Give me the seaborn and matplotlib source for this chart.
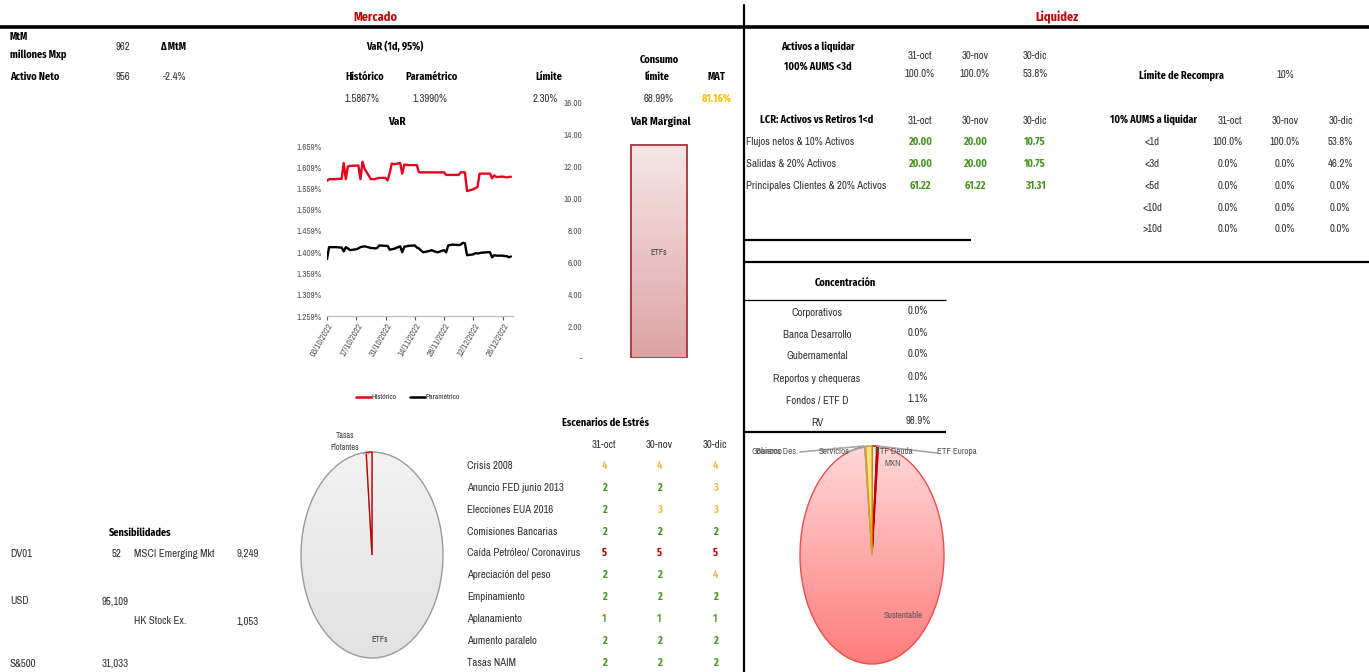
import numpy as np
import pandas as pd
import matplotlib
matplotlib.use("Agg")
import matplotlib.pyplot as plt
import matplotlib.dates as mdates
from matplotlib.colors import LinearSegmentedColormap
from matplotlib.ticker import FixedLocator, FuncFormatter
import seaborn as sns

# ---------------- data ----------------
fechas = pd.bdate_range("2022-10-03", "2022-12-30")
var_historico = [
    1.577, 1.581, 1.581, 1.581, 1.581, 1.582, 1.619, 1.581, 1.611, 1.612, 1.613,
    1.613, 1.581, 1.622, 1.605, 1.581, 1.581, 1.581, 1.583, 1.584, 1.584,
    1.578, 1.595, 1.618, 1.616, 1.619, 1.594, 1.615, 1.615, 1.614, 1.614, 1.614,
    1.597, 1.597, 1.597, 1.597, 1.597, 1.597, 1.597, 1.597, 1.597, 1.591, 1.591,
    1.591, 1.591, 1.591, 1.597, 1.597, 1.597, 1.553, 1.557, 1.560, 1.562, 1.594,
    1.594, 1.594, 1.594, 1.583, 1.590, 1.586, 1.587, 1.586, 1.585, 1.586, 1.5867,
]
var_parametrico = [
    1.393, 1.421, 1.421, 1.421, 1.421, 1.420, 1.411, 1.421, 1.418, 1.414, 1.416,
    1.418, 1.421, 1.422, 1.423, 1.419, 1.419, 1.418, 1.419, 1.425, 1.424,
    1.424, 1.415, 1.416, 1.417, 1.423, 1.409, 1.422, 1.423, 1.424, 1.425, 1.420,
    1.418, 1.413, 1.409, 1.412, 1.414, 1.412, 1.410, 1.409, 1.414, 1.409, 1.425,
    1.426, 1.427, 1.426, 1.427, 1.431, 1.430, 1.402, 1.404, 1.407, 1.406, 1.407,
    1.408, 1.409, 1.409, 1.397, 1.402, 1.401, 1.401, 1.400, 1.400, 1.397, 1.399,
]
var_yticks = [1.259, 1.309, 1.359, 1.409, 1.459, 1.509, 1.559, 1.609, 1.659]
var_xticks = ["2022-10-03", "2022-10-17", "2022-10-31", "2022-11-14",
              "2022-11-28", "2022-12-12", "2022-12-26"]

marginal_cat = ["ETFs"]
marginal_val = [13.36]
marginal_yticks = [0, 2, 4, 6, 8, 10, 12, 14, 16]

pie_mercado_labels = ["ETFs", "Tasas Flotantes"]
pie_mercado_vals = [98.7, 1.3]

pie_liq_labels = ["ETF Deuda MXN", "ETF Europa", "Sustentable", "Gobierno",
                  "Bancos Des.", "Servicios"]
pie_liq_vals = [1.1, 0.3, 97.0, 0.1, 0.1, 1.4]

escenarios = ["Crisis 2008", "Anuncio FED junio 2013", "Elecciones EUA 2016",
              "Comisiones Bancarias", "Caída Petróleo/ Coronavirus",
              "Apreciación del peso", "Empinamiento", "Aplanamiento",
              "Aumento paralelo", "Tasas NAIM"]
fechas_cols = ["31-oct", "30-nov", "30-dic"]
esc_oct = [4, 2, 2, 2, 5, 2, 2, 1, 2, 2]
esc_nov = [4, 2, 3, 2, 5, 2, 2, 1, 2, 2]
esc_dic = [4, 3, 3, 2, 5, 4, 2, 1, 2, 2]

lcr_labels = ["Flujos netos & 10% Activos", "Salidas & 20% Activos",
              "Principales Clientes & 20% Activos"]
lcr_oct = ["20.00", "20.00", "61.22"]
lcr_nov = ["20.00", "20.00", "61.22"]
lcr_dic = ["10.75", "10.75", "31.31"]

aums_labels = ["<1d", "<3d", "<5d", "<10d", ">10d"]
aums_oct = ["100.0%", "0.0%", "0.0%", "0.0%", "0.0%"]
aums_nov = ["100.0%", "0.0%", "0.0%", "0.0%", "0.0%"]
aums_dic = ["53.8%", "46.2%", "0.0%", "0.0%", "0.0%"]

conc_labels = ["Corporativos", "Banca Desarrollo", "Gubernamental",
               "Reportos y chequeras", "Fondos / ETF D", "RV"]
conc_vals = ["0.0%", "0.0%", "0.0%", "0.0%", "1.1%", "98.9%"]

# ---------------- style ----------------
W, H = 1369, 672
sns.set_theme(style="white")
REG = ["Archivo Narrow", "DejaVu Sans"]
BOLD = ["Fira Sans Condensed", "Archivo Narrow", "DejaVu Sans"]
plt.rcParams["font.family"] = REG
plt.rcParams["axes.unicode_minus"] = False

RED_T = "#c00000"
TXT = "#333333"
GREEN = "#42931f"
ORANGE = "#f2b84b"
DRED = "#b00000"
FS = 7.8
FB = 7.4

fig = plt.figure(figsize=(W / 100, H / 100), dpi=100)
fig.patch.set_facecolor("white")

# overlay axes in pixel coordinates for texts and rules (drawn on top)
bg = fig.add_axes([0, 0, 1, 1])
bg.set_xlim(0, W)
bg.set_ylim(H, 0)
bg.axis("off")
bg.patch.set_alpha(0)
bg.set_zorder(10)


def px_axes(x0, y0, x1, y1):
    return fig.add_axes([x0 / W, 1 - y1 / H, (x1 - x0) / W, (y1 - y0) / H])


def t(x, y, s, ha="center", bold=False, color=TXT, size=None, **kw):
    if size is None:
        size = FB if bold else FS
    bg.text(x, y, s, ha=ha, va="center", fontsize=size,
            family=BOLD if bold else REG,
            fontweight="bold" if bold else "normal",
            color=("black" if (bold and color == TXT) else color), **kw)


def hline(y, x0, x1, lw=2.0):
    bg.plot([x0, x1], [y, y], color="black", lw=lw, solid_capstyle="butt")


# ---------------- frame lines & titles ----------------
hline(26.5, 0, W, lw=2.6)
bg.plot([744, 744], [5, H], color="black", lw=1.6)
t(375, 17, "Mercado", bold=True, color=RED_T, size=8.8)
t(1057, 17, "Liquidez", bold=True, color=RED_T, size=8.8)

# ---------------- Mercado header ----------------
t(10, 37, "MtM", ha="left", bold=True)
t(10, 55, "millones Mxp", ha="left", bold=True)
t(123, 47, "962")
t(160, 47, "Δ MtM", ha="left", bold=True)
t(10, 77, "Activo Neto", ha="left", bold=True)
t(123, 77, "956")
t(175, 77, "-2.4%")
t(395, 47, "VaR (1d, 95%)", bold=True)
t(365, 77, "Histórico", bold=True)
t(431, 77, "Paramétrico", bold=True)
t(549, 77, "Límite", bold=True)
t(659, 60, "Consumo", bold=True)
t(657, 77, "límite", bold=True)
t(716, 77, "MAT", bold=True)
t(362, 99, "1.5867%")
t(430, 99, "1.3990%")
t(545, 99, "2.30%")
t(659, 99, "68.99%")
t(717, 99, "81.16%", bold=True, color="#ffc000")

# ---------------- VaR line chart ----------------
t(397, 122, "VaR", bold=True, size=8)
df_var = pd.DataFrame({
    "fecha": list(fechas) * 2,
    "valor": var_historico + var_parametrico,
    "serie": ["Histórico"] * len(fechas) + ["Paramétrico"] * len(fechas),
})
ax1 = px_axes(327, 146, 513, 316)
sns.lineplot(data=df_var, x="fecha", y="valor", hue="serie",
             palette={"Histórico": "#e8001c", "Paramétrico": "black"},
             linewidth=1.7, legend=False, ax=ax1)
ax1.set_xlim(pd.Timestamp("2022-10-03"), pd.Timestamp("2022-12-31"))
ax1.set_ylim(1.259, 1.659)
ax1.yaxis.set_major_locator(FixedLocator(var_yticks))
ax1.yaxis.set_major_formatter(FuncFormatter(lambda v, p: f"{v:.3f}%"))
ax1.set_xticks(pd.to_datetime(var_xticks))
ax1.xaxis.set_major_formatter(mdates.DateFormatter("%d/%m/%Y"))
ax1.tick_params(axis="y", labelsize=6.5, colors="#595959", length=0, pad=3.5)
ax1.tick_params(axis="x", labelsize=6.5, colors="#595959", length=3,
                width=0.8, direction="out", pad=1, bottom=True)
for lab in ax1.get_xticklabels():
    lab.set_rotation(60)
    lab.set_ha("right")
    lab.set_rotation_mode("anchor")
for s in ["top", "right", "left"]:
    ax1.spines[s].set_visible(False)
ax1.spines["bottom"].set_color("#bfbfbf")
ax1.spines["bottom"].set_linewidth(1)
ax1.set_xlabel("")
ax1.set_ylabel("")
ax1.patch.set_alpha(0)

# legend
bg.plot([356, 371], [397, 397], color="#e8001c", lw=1.8)
t(372, 397, "Histórico", ha="left", size=5.5)
bg.plot([410, 425], [397, 397], color="black", lw=1.8)
t(426, 397, "Paramétrico", ha="left", size=5.5)

# ---------------- VaR Marginal bar ----------------
t(660, 122, "VaR Marginal", bold=True, size=8)
ax2 = px_axes(585, 103, 733, 358)
sns.barplot(x=marginal_cat, y=marginal_val, width=0.378, ax=ax2,
            color="#e8c4c4")
ax2.set_ylim(0, 16)
ax2.set_xlim(-0.5, 0.5)
ax2.yaxis.set_major_locator(FixedLocator(marginal_yticks))
ax2.yaxis.set_major_formatter(
    FuncFormatter(lambda v, p: "-" if v == 0 else f"{v:.2f}"))
ax2.tick_params(axis="y", labelsize=6.5, colors="#595959", length=0, pad=2)
ax2.set_xticks([])
for s in ax2.spines.values():
    s.set_visible(False)
ax2.patch.set_alpha(0)
bar = ax2.patches[0]
bx, bw, bh = bar.get_x(), bar.get_width(), bar.get_height()
cmap_bar = LinearSegmentedColormap.from_list("b", ["#f6e7e7", "#dda3a3"])
im = ax2.imshow(np.linspace(0, 1, 256).reshape(-1, 1), cmap=cmap_bar,
                extent=[bx, bx + bw, 0, bh], aspect="auto", origin="upper",
                zorder=2)
im.set_clip_path(bar)
bar.set_facecolor("none")
bar.set_edgecolor("#a3343c")
bar.set_linewidth(1.3)
bar.set_zorder(3)
ax2.set_xlim(-0.5, 0.5)
ax2.set_ylim(0, 16)
ax2.text(bx + bw / 2, 6.6, marginal_cat[0], ha="center", va="center",
         fontsize=6, color="#404040")


# ---------------- pies ----------------
def pie_axes(cx, cy, rx, ry, pad=1.06):
    return px_axes(cx - rx * pad, cy - ry * pad, cx + rx * pad, cy + ry * pad)


def gradient_wedge(ax, wedge, c0, c1):
    cm = LinearSegmentedColormap.from_list("g", [c0, c1])
    img = ax.imshow(np.linspace(0, 1, 256).reshape(-1, 1), cmap=cm,
                    extent=[-1, 1, -1, 1], aspect="auto", origin="upper",
                    zorder=1)
    img.set_clip_path(wedge)
    wedge.set_facecolor("none")
    wedge.set_zorder(2)


# Mercado pie
ax3 = pie_axes(372, 555, 71, 103)
w3, _ = ax3.pie(pie_mercado_vals, startangle=90, counterclock=False,
                radius=1, colors=["#ececec", "#fbe8e8"],
                wedgeprops=dict(linewidth=1.0))
w3[0].set_edgecolor("#9a9a9a")
w3[1].set_edgecolor("#c00000")
gradient_wedge(ax3, w3[0], "#f2f2f2", "#e2e2e2")
w3[1].set_zorder(3)
ax3.set_aspect("auto")
ax3.set_xlim(-1.06, 1.06)
ax3.set_ylim(-1.06, 1.06)
ax3.axis("off")
t(345, 436, "Tasas", size=6, color="#404040")
t(345, 448, "Flotantes", size=6, color="#404040")
bg.plot([358, 369], [453, 453], color="#a6a6a6", lw=0.8)
t(380, 640, "ETFs", size=6, color="#404040")

# Liquidez pie
ax4 = pie_axes(872, 555, 72, 109)
liq_colors = ["#f8e2e2", "#f2c2c2", "#ffc8c8", "#d9d9d9", "#bfbfbf", "#ffe08c"]
liq_edges = ["#8b0000", "#c00000", "#f04a4a", "#a6a6a6", "#a6a6a6", "#e0a000"]
w4, _ = ax4.pie(pie_liq_vals, startangle=90, counterclock=False, radius=1,
                colors=liq_colors, wedgeprops=dict(linewidth=1.0))
for w, ec in zip(w4, liq_edges):
    w.set_edgecolor(ec)
    w.set_zorder(3)
gradient_wedge(ax4, w4[2], "#ffd8d8", "#ff7c7c")
ax4.set_aspect("auto")
ax4.set_xlim(-1.06, 1.06)
ax4.set_ylim(-1.06, 1.06)
ax4.axis("off")

# leader lines and labels
for (x0, y0, x1, y1) in [(800, 452, 864, 446), (846, 452, 868, 446),
                         (937, 453, 877, 446)]:
    bg.plot([x0, x1], [y0, y1], color="#a6a6a6", lw=1.2)
t(752, 451, "Gobierno", ha="left", size=6.5, color="#595959")
t(756, 451, "Bancos Des.", ha="left", size=6.5, color="#595959")
t(819, 451, "Servicios", ha="left", size=6.5, color="#595959")
t(894, 451, "ETF Deuda", size=6.5, color="#595959")
t(893, 463, "MXN", size=6.5, color="#595959")
t(937, 451, "ETF Europa", ha="left", size=6.5, color="#595959")
t(903, 616, "Sustentable", size=6.5, color="#595959")

# ---------------- Escenarios de Estrés ----------------
t(605, 423, "Escenarios de Estrés", bold=True)
col_x = [604, 659, 715]
for cx, lab in zip(col_x, fechas_cols):
    t(cx, 445, lab)
row_y = [466, 488, 510, 532, 553, 575, 597, 619, 641, 663]
score_color = {1: "#5aa02c", 2: GREEN, 3: ORANGE, 4: ORANGE, 5: DRED}
for i, name in enumerate(escenarios):
    t(467, row_y[i], name, ha="left")
    for cx, col in zip(col_x, [esc_oct, esc_nov, esc_dic]):
        v = col[i]
        t(cx, row_y[i], str(v), bold=True, color=score_color[v])

# ---------------- Sensibilidades ----------------
t(140, 533, "Sensibilidades", bold=True)
t(10, 554, "DV01", ha="left")
t(122, 554, "52", ha="right")
t(134, 554, "MSCI Emerging Mkt", ha="left")
t(259, 554, "9,249", ha="right")
t(10, 601, "USD", ha="left")
t(129, 601, "95,109", ha="right")
t(134, 621, "HK Stock Ex.", ha="left")
t(259, 621, "1,053", ha="right")
t(10, 664, "S&500", ha="left")
t(129, 664, "31,033", ha="right")

# ---------------- Liquidez tables ----------------
t(818, 47, "Activos a liquidar", bold=True)
t(818, 67, "100% AUMS <3d", bold=True)
lx = [920, 975, 1035]
for cx, lab in zip(lx, fechas_cols):
    t(cx, 56, lab)
for cx, v in zip(lx, ["100.0%", "100.0%", "53.8%"]):
    t(cx, 74, v)

t(1181, 75, "Límite de Recompra", bold=True)
t(1285, 75, "10%")

t(817, 120, "LCR: Activos vs Retiros 1<d", bold=True)
for cx, lab in zip(lx, fechas_cols):
    t(cx, 121, lab)
lcr_y = [142, 164, 186]
for i, name in enumerate(lcr_labels):
    t(746, lcr_y[i], name, ha="left")
    for cx, col in zip(lx, [lcr_oct, lcr_nov, lcr_dic]):
        t(cx, lcr_y[i], col[i], bold=True, color=GREEN)

t(1154, 120, "10% AUMS a liquidar", bold=True)
for cx, lab in zip([1230, 1285, 1341], fechas_cols):
    t(cx, 121, lab)
aums_y = [142, 164, 186, 208, 229]
for i, name in enumerate(aums_labels):
    t(1152, aums_y[i], name)
    for cx, col in zip([1228, 1285, 1340], [aums_oct, aums_nov, aums_dic]):
        t(cx, aums_y[i], col[i])

hline(240, 744, 971, lw=1.6)
hline(262, 744, W, lw=1.6)

# ---------------- Concentración ----------------
t(845, 283, "Concentración", bold=True)
hline(300, 744, 946, lw=0.9)
conc_y = [313, 335, 356, 379, 401, 423]
for i, name in enumerate(conc_labels):
    t(817, conc_y[i], name)
    t(918, conc_y[i] - 2, conc_vals[i])
hline(432, 744, 946, lw=1.6)

fig.savefig("out.png", dpi=100, facecolor="white")
